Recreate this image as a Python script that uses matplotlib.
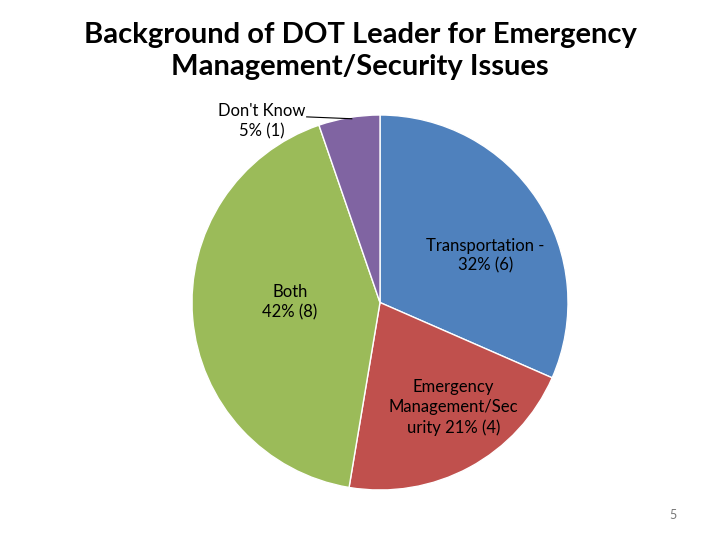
import matplotlib
matplotlib.use("Agg")
import matplotlib.pyplot as plt

categories = ["Transportation", "Emergency Management/Security", "Both", "Don't Know"]
counts = [6, 4, 8, 1]
labels = ["Transportation -\n32% (6)", "Emergency\nManagement/Sec\nurity 21% (4)", "Both\n42% (8)", "Don't Know\n5% (1)"]
colors = ["#4F81BD", "#C0504D", "#9BBB59", "#8064A2"]

plt.rcParams['font.family'] = ['Lato', 'DejaVu Sans']
fig = plt.figure(figsize=(7.2, 5.4), dpi=100)
fig.text(0.5, 1 - 51/540, "Background of DOT Leader for Emergency\nManagement/Security Issues",
         ha='center', va='center', fontsize=21, fontweight='bold', linespacing=1.3)

ax = fig.add_axes([192/720, 50/540, 376/720, 375/540])
ax.pie(counts, colors=colors, startangle=90, counterclock=False,
       wedgeprops=dict(edgecolor='white', linewidth=1.0), radius=1)
ax.set_xlim(-1, 1)
ax.set_ylim(-1, 1)
ax.set_aspect('auto')
ax.axis('off')

pos = [(0.56, 0.25), (0.39, -0.56), (-0.48, 0.0), (-0.63, 0.967)]
for (x, y), lab in zip(pos, labels):
    ax.text(x, y, lab, ha='center', va='center', fontsize=12, linespacing=1.3, clip_on=False)
ax.plot([-0.39, -0.15], [0.99, 0.98], color='black', lw=0.8, clip_on=False)

fig.text(673/720, 1 - 515/540, "5", ha='center', va='center', fontsize=9, color='#777777')

fig.savefig("out.png", dpi=100)
